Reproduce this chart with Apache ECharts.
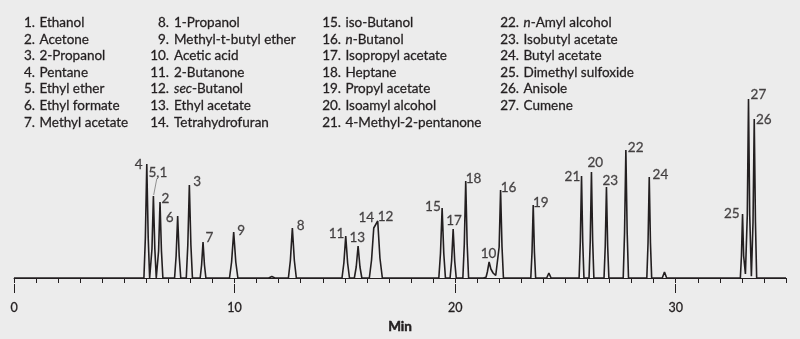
<!DOCTYPE html>
<html>
<head>
<meta charset="utf-8">
<title>Residual solvents chromatogram</title>
<script src="https://cdn.jsdelivr.net/npm/echarts@6/dist/echarts.min.js"></script>
<style>
  html, body { margin: 0; padding: 0; background: #ececec; }
  #chart { width: 800px; height: 339px; }
</style>
</head>
<body>
<div id="chart"></div>
<script>
// Compound key, numbered 1..27
const compounds = [
  'Ethanol', 'Acetone', '2-Propanol', 'Pentane', 'Ethyl ether', 'Ethyl formate', 'Methyl acetate',
  '1-Propanol', 'Methyl-t-butyl ether', 'Acetic acid', '2-Butanone', 'sec-Butanol', 'Ethyl acetate', 'Tetrahydrofuran',
  'iso-Butanol', 'n-Butanol', 'Isopropyl acetate', 'Heptane', 'Propyl acetate', 'Isoamyl alcohol', '4-Methyl-2-pentanone',
  'n-Amyl alcohol', 'Isobutyl acetate', 'Butyl acetate', 'Dimethyl sulfoxide', 'Anisole', 'Cumene'
];

// Labelled peaks: label, retention time (min), apex signal
const peakNo     = ['4', '5,1', '2', '6', '3', '7', '9', '8', '11', '13', '14', '12', '15', '17', '18', '10', '16', '19', '21', '20', '23', '22', '24', '25', '27', '26'];
const peakTime   = [6.02, 6.32, 6.62, 7.42, 7.95, 8.57, 9.96, 12.62, 15.04, 15.60, 16.31, 16.49, 19.41, 19.91, 20.48, 21.54, 22.06, 23.54, 25.73, 26.18, 26.86, 27.74, 28.80, 33.03, 33.30, 33.56];
const peakHeight = [114, 82, 76, 62, 93, 36, 46, 50, 42, 32, 50, 57, 70, 49, 97, 16, 88, 73, 102, 106, 91, 128, 101, 64, 179, 159];

// Detector trace: [time (min), signal]
const trace = [
  [0, 0], [5.25, 0], [5.34, 1.2], [5.43, 0],
  [5.89, 0], [5.955, 40], [6.02, 114], [6.085, 40], [6.15, 0],
  [6.19, 0], [6.255, 29], [6.32, 82], [6.385, 29], [6.45, 0],
  [6.49, 0], [6.555, 27], [6.62, 76], [6.685, 27], [6.75, 0],
  [7.28, 0], [7.35, 22], [7.42, 62], [7.49, 22], [7.56, 0],
  [7.81, 0], [7.88, 33], [7.95, 93], [8.02, 33], [8.09, 0],
  [8.44, 0], [8.505, 13], [8.57, 36], [8.635, 13], [8.70, 0],
  [9.77, 0], [9.865, 16], [9.96, 46], [10.055, 16], [10.15, 0],
  [11.55, 0], [11.69, 1.5], [11.83, 0],
  [12.44, 0], [12.53, 17.5], [12.62, 50], [12.71, 17.5], [12.80, 0],
  [14.87, 0], [14.955, 15], [15.04, 42], [15.125, 15], [15.21, 0],
  [15.43, 0], [15.515, 11], [15.60, 32], [15.685, 11], [15.77, 0],
  [16.11, 0], [16.21, 18], [16.31, 50], [16.37, 48], [16.49, 57], [16.59, 20], [16.70, 0],
  [19.26, 0], [19.335, 24.5], [19.41, 70], [19.485, 24.5], [19.56, 0],
  [19.77, 0], [19.84, 17], [19.91, 49], [19.98, 17], [20.05, 0],
  [20.35, 0], [20.415, 34], [20.48, 97], [20.545, 34], [20.61, 0],
  [21.28, 0], [21.36, 1.5], [21.40, 0.8], [21.46, 6], [21.54, 16], [21.62, 9], [21.72, 5], [21.84, 2.5],
  [21.93, 2], [21.995, 31], [22.06, 88], [22.125, 31], [22.19, 0],
  [23.43, 0], [23.485, 25.5], [23.54, 73], [23.595, 25.5], [23.65, 0],
  [24.15, 0], [24.25, 5], [24.35, 0],
  [25.62, 0], [25.675, 36], [25.73, 102], [25.785, 36], [25.84, 0],
  [26.07, 0], [26.125, 37], [26.18, 106], [26.235, 37], [26.29, 0],
  [26.75, 0], [26.805, 32], [26.86, 91], [26.915, 32], [26.97, 0],
  [27.62, 0], [27.68, 45], [27.74, 128], [27.80, 45], [27.86, 0],
  [28.69, 0], [28.745, 35], [28.80, 101], [28.855, 35], [28.91, 0],
  [29.39, 0], [29.49, 6], [29.59, 0],
  [32.93, 0], [32.98, 22], [33.03, 64], [33.08, 22], [33.16, 4],
  [33.245, 63], [33.30, 179], [33.355, 63], [33.43, 1.7],
  [33.505, 56], [33.56, 159], [33.615, 56], [33.67, 0],
  [35, 0]
];

const xMajorTicks = [0, 10, 20, 30];
const xMinorTicks = [0, 1, 2, 3, 4, 5, 6, 7, 8, 9, 10, 11, 12, 13, 14, 15, 16, 17, 18, 19, 20,
                     21, 22, 23, 24, 25, 26, 27, 28, 29, 30, 31, 32, 33, 34, 35];

// ---- styling ----
const INK = '#231f20';
const FONT = 'Lato';
const TEXT_WEIGHT = 0.28;   // thin outline to give the text a fuller stroke

// pixel offset of each peak label centre from its apex
const labelOffset = {
  '4': [-7.7, 0.7], '5,1': [5, -22.4], '2': [6, -3.3], '6': [-7.4, 1.7], '3': [8.4, -2.7],
  '7': [7, -3.4], '9': [8, -1.3], '8': [8.7, -1.7], '11': [-8.7, -2.3], '13': [-0.3, -7.7],
  '14': [-7, -9.6], '12': [8.3, -4], '15': [-8.7, -1], '17': [1.3, -8], '18': [8.3, -2],
  '10': [0, -7.7], '16': [8.4, -1.7], '19': [8, -2], '21': [-8.6, 1], '20': [4.4, -9],
  '23': [4.4, -6.3], '22': [10.3, -1.4], '24': [11.7, -2], '25': [-10.3, 0.4], '27': [10.4, -3.7],
  '26': [10, 0.7]
};

// key layout: 4 columns of 7 rows
const keyCols = [
  { numRight: 35, nameLeft: 39.5 },
  { numRight: 169, nameLeft: 174 },
  { numRight: 341, nameLeft: 345.5 },
  { numRight: 519, nameLeft: 523.5 }
];
const keyTop = 22.6, keyRowGap = 16.6, keyFontSize = 13.5;

const chart = echarts.init(document.getElementById('chart'), null, { renderer: 'canvas' });

const peakData = peakNo.map((no, i) => ({
  value: [peakTime[i], peakHeight[i]],
  label: { position: labelOffset[no] }
}));

chart.setOption({
  animation: false,
  backgroundColor: '#ececec',
  grid: { left: 14, right: 14, top: 85, bottom: 55 },
  xAxis: [
    {
      type: 'value', min: 0, max: 35, position: 'bottom',
      axisLine: { show: true, lineStyle: { color: INK, width: 1 } },
      axisTick: { show: true, length: 5, customValues: xMinorTicks, lineStyle: { color: INK, width: 1 } },
      axisLabel: { show: false },
      splitLine: { show: false }
    },
    {
      type: 'value', min: 0, max: 35, position: 'bottom',
      axisLine: { show: false },
      axisTick: { show: true, length: 9, customValues: xMajorTicks, lineStyle: { color: INK, width: 1 } },
      axisLabel: {
        show: true, customValues: xMajorTicks, margin: 17,
        color: INK, fontFamily: FONT, fontSize: 12.5,
        textBorderColor: INK, textBorderWidth: TEXT_WEIGHT
      },
      splitLine: { show: false },
      name: 'Min', nameLocation: 'middle', nameGap: 34,
      nameTextStyle: {
        color: INK, fontFamily: FONT, fontSize: 13.5, fontWeight: 'bold',
        textBorderColor: INK, textBorderWidth: 0.5
      }
    }
  ],
  yAxis: { type: 'value', min: -6, max: 193, show: false },
  series: [
    {
      type: 'line', xAxisIndex: 0, data: trace, showSymbol: false, silent: true,
      lineStyle: { color: INK, width: 1.6 }, z: 2
    },
    {
      type: 'scatter', xAxisIndex: 0, data: peakData, symbolSize: 1, silent: true,
      itemStyle: { color: 'rgba(0,0,0,0)' },
      label: {
        show: true, formatter: p => peakNo[p.dataIndex],
        align: 'center', verticalAlign: 'middle',
        color: INK, fontFamily: FONT, fontSize: 13.5,
        textBorderColor: INK, textBorderWidth: TEXT_WEIGHT
      },
      z: 3
    }
  ]
});

// compound key and the leader line of the 5,1 label
const graphics = [];
compounds.forEach((name, i) => {
  const col = keyCols[Math.floor(i / 7)];
  const y = keyTop + (i % 7) * keyRowGap;
  graphics.push({
    type: 'text', x: col.numRight, y: y, silent: true,
    style: {
      text: (i + 1) + '.', fill: INK, font: keyFontSize + 'px ' + FONT,
      align: 'right', verticalAlign: 'middle', stroke: INK, lineWidth: TEXT_WEIGHT
    }
  });
  const m = name.match(/^(sec|n)-(.*)$/);
  graphics.push({
    type: 'text', x: col.nameLeft, y: y, silent: true,
    style: {
      text: m ? '{i|' + m[1] + '}-' + m[2] : name,
      fill: INK, font: keyFontSize + 'px ' + FONT, align: 'left', verticalAlign: 'middle',
      stroke: INK, lineWidth: TEXT_WEIGHT,
      rich: { i: { fontStyle: 'italic', fontFamily: FONT, fontSize: keyFontSize, fill: INK, stroke: INK, lineWidth: TEXT_WEIGHT } }
    }
  });
});

const k = peakNo.indexOf('5,1');
const apex = chart.convertToPixel({ xAxisIndex: 0, yAxisIndex: 0 }, [peakTime[k], peakHeight[k]]);
graphics.push({
  type: 'line', silent: true,
  shape: { x1: apex[0] + 0.3, y1: apex[1] - 1, x2: apex[0] + 3.4, y2: apex[1] - 17.4 },
  style: { stroke: '#777', lineWidth: 0.8 }
});

chart.setOption({ graphic: graphics });
</script>
</body>
</html>
